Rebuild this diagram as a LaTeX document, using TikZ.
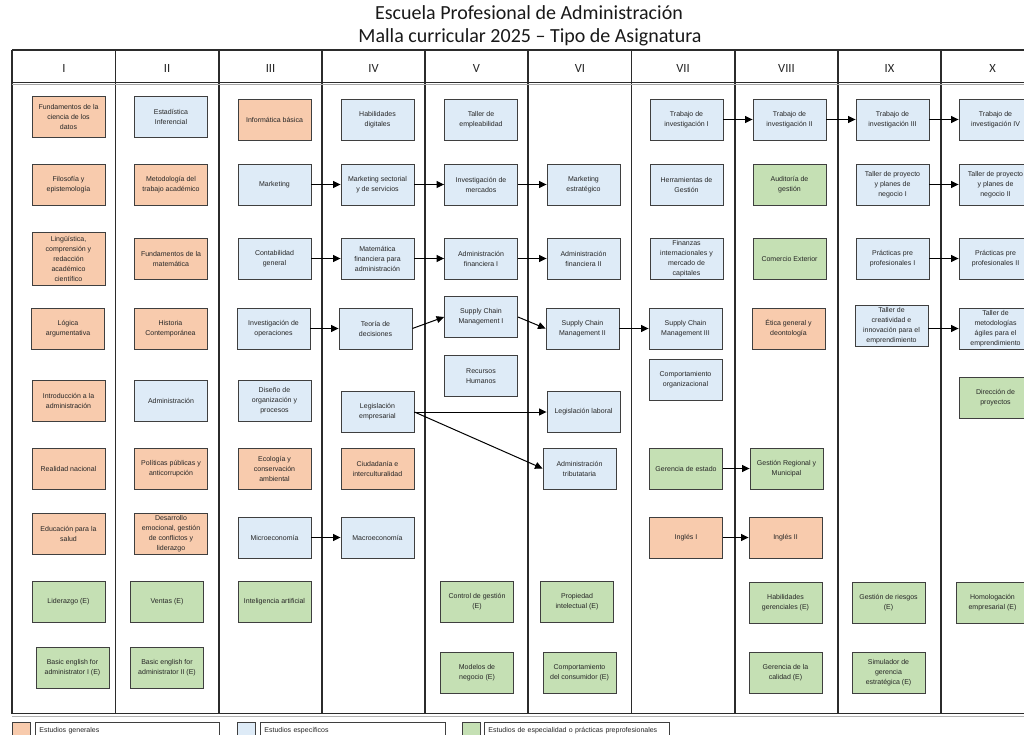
\documentclass[tikz,border=0pt]{standalone}
\usepackage{fontspec}
\setmainfont{Liberation Sans}
\newfontfamily\titlefont{Carlito}
\usetikzlibrary{arrows.meta}
\definecolor{cgen}{HTML}{F8CBAD}
\definecolor{cesp}{HTML}{DEEBF7}
\definecolor{cspc}{HTML}{C5E0B4}
\definecolor{boxline}{HTML}{3F3F3F}
\definecolor{gridline}{HTML}{2B2B2B}
\begin{document}
\begin{tikzpicture}[x=1pt,y=-1pt,
  course/.style={draw=boxline, line width=0.9pt, minimum width=73pt, minimum height=41pt,
    inner sep=0.5pt, align=center, text=black!85, font=\fontsize{7}{10}\selectfont},
  genbox/.style={course, fill=cgen},
  espbox/.style={course, fill=cesp},
  spcbox/.style={course, fill=cspc},
  arr/.style={-{Triangle[length=7.5pt,width=7pt]}, line width=1pt, draw=black},
  grid/.style={draw=gridline, line width=1.2pt},
  semester/.style={font=\titlefont\fontsize{12.5}{12.5}\selectfont, text=black!85},
  legsq/.style={draw=boxline, line width=0.8pt, minimum width=18pt, minimum height=16pt, inner sep=0pt, anchor=north west},
  legtxt/.style={draw=boxline, line width=0.8pt, minimum height=16pt, inner ysep=0pt, inner xsep=4pt,
    anchor=north west, align=left, font=\fontsize{7}{8}\selectfont, text=black!85},
]
\useasboundingbox (0,0) rectangle (1024,735);
\fill[white] (0,0) rectangle (1024,735);

% Title
\node[font=\titlefont\fontsize{20}{22}\selectfont, text=black!90] (t1) at (529,13) {Escuela Profesional de Administración};
\node[font=\titlefont\fontsize{20}{22}\selectfont, text=black!90] (t2) at (530,37) {Malla curricular 2025 – Tipo de Asignatura};

% Table grid
\foreach \x in {12,115.5,219,322,425,528,631.5,735,838,941}
  \draw[grid] (\x,50) -- (\x,714);
\draw[grid] (12,50) -- (1030,50);
\draw[grid] (12,82.5) -- (1030,82.5);
\draw[draw=gray!70, line width=1pt] (12,85) -- (1030,85);
\draw[grid] (12,713.5) -- (1030,713.5);
\draw[draw=gray!60, line width=1pt] (12,716) -- (1030,716);

% Semester headers
\node[semester] (h1) at (64,68) {I};
\node[semester] (h2) at (167,68) {II};
\node[semester] (h3) at (270.5,68) {III};
\node[semester] (h4) at (373.5,68) {IV};
\node[semester] (h5) at (476.5,68) {V};
\node[semester] (h6) at (580,68) {VI};
\node[semester] (h7) at (683,68) {VII};
\node[semester] (h8) at (786.5,68) {VIII};
\node[semester] (h9) at (889.5,68) {IX};
\node[semester] (h10) at (992.5,68) {X};

% Column I
\node[genbox] (fc) at (68.5,116.5) {Fundamentos de la\\ciencia de los\\datos};
\node[genbox] (fe) at (68.5,184.5) {Filosofía y\\epistemología};
\node[genbox, minimum height=53pt] (li) at (68.5,258.5) {Lingüística,\\comprensión y\\redacción\\académico\\científico};
\node[genbox] (lo) at (68,328.5) {Lógica\\argumentativa};
\node[genbox] (ia) at (68.5,400.5) {Introducción a la\\administración};
\node[genbox] (rn) at (68.5,468.5) {Realidad nacional};
\node[genbox] (ep) at (68.5,533.5) {Educación para la\\salud};
\node[spcbox] (lid) at (68.5,602) {Liderazgo (E)};
\node[spcbox] (be1) at (72.5,667.5) {Basic english for\\administrator I (E)};

% Column II
\node[espbox] (ei) at (171,116.5) {Estadística\\Inferencial};
\node[genbox] (mt) at (171,184.5) {Metodología del\\trabajo académico};
\node[genbox] (fm) at (171,258.5) {Fundamentos de la\\matemática};
\node[genbox] (hc) at (170.5,328.5) {Historia\\Contemporánea};
\node[espbox] (ad) at (171,400.5) {Administración};
\node[genbox] (pp) at (171,468.5) {Políticas públicas y\\anticorrupción};
\node[genbox] (de) at (171,533.5) {Desarrollo\\emocional, gestión\\de conflictos y\\liderazgo};
\node[spcbox] (ve) at (167,602) {Ventas (E)};
\node[spcbox] (be2) at (167,667.5) {Basic english for\\administrator II (E)};

% Column III
\node[genbox] (ib) at (274.5,119.5) {Informática básica};
\node[espbox] (mk) at (274.5,184.5) {Marketing};
\node[espbox] (cg) at (274.5,258.5) {Contabilidad\\general};
\node[espbox] (io) at (273.5,328.5) {Investigación de\\operaciones};
\node[espbox] (do) at (274.5,401) {Diseño de\\organización y\\procesos};
\node[genbox] (ec) at (274.5,468.5) {Ecología y\\conservación\\ambiental};
\node[espbox] (mi) at (274.5,537.5) {Microeconomía};
\node[spcbox] (ai) at (274.5,602) {Inteligencia artificial};

% Column IV
\node[espbox] (hd) at (377.5,119.5) {Habilidades\\digitales};
\node[espbox] (ms) at (377.5,184.5) {Marketing sectorial\\y de servicios};
\node[espbox] (mf) at (377.5,258.5) {Matemática\\financiera para\\administración};
\node[espbox] (td) at (375.5,328.5) {Teoría de\\decisiones};
\node[espbox] (le) at (377.5,412) {Legislación\\empresarial};
\node[genbox] (ci) at (377.5,468.5) {Ciudadanía e\\interculturalidad};
\node[espbox] (ma) at (377.5,537.5) {Macroeconomía};

% Column V
\node[espbox] (te) at (481,119.5) {Taller de\\empleabilidad};
\node[espbox] (im) at (481,184.5) {Investigación de\\mercados};
\node[espbox] (af1) at (481,258.5) {Administración\\financiera I};
\node[espbox] (sc1) at (481,317) {Supply Chain\\Management I};
\node[espbox] (rh) at (481,376) {Recursos\\Humanos};
\node[spcbox] (cgE) at (477,602) {Control de gestión\\(E)};
\node[spcbox] (mn) at (477,673) {Modelos de\\negocio (E)};

% Column VI
\node[espbox] (me) at (583.5,184.5) {Marketing\\estratégico};
\node[espbox] (af2) at (583.5,258.5) {Administración\\financiera II};
\node[espbox] (sc2) at (582.5,328.5) {Supply Chain\\Management II};
\node[espbox] (ll) at (583.5,412) {Legislación laboral};
\node[espbox] (at) at (579.5,468.5) {Administración\\tributataria};
\node[spcbox] (pi) at (577,602) {Propiedad\\intelectual (E)};
\node[spcbox] (cc) at (579.5,673) {Comportamiento\\del consumidor (E)};

% Column VII
\node[espbox] (ti1) at (686.5,119.5) {Trabajo de\\investigación I};
\node[espbox] (hg) at (686.5,184.5) {Herramientas de\\Gestión};
\node[espbox] (fi) at (686.5,258.5) {Finanzas\\internacionales y\\mercado de\\capitales};
\node[espbox] (sc3) at (685.5,328.5) {Supply Chain\\Management III};
\node[espbox] (co) at (685.5,379.5) {Comportamiento\\organizacional};
\node[spcbox] (ge) at (686,468.5) {Gerencia de estado};
\node[genbox] (in1) at (686,537.5) {Inglés I};

% Column VIII
\node[espbox] (ti2) at (789.5,119.5) {Trabajo de\\investigación II};
\node[spcbox] (au) at (789.5,184.5) {Auditoría de\\gestión};
\node[spcbox] (ce) at (789.5,258.5) {Comercio Exterior};
\node[genbox] (et) at (788.5,328.5) {Ética general y\\deontología};
\node[spcbox] (gr) at (786.5,468.5) {Gestión Regional y\\Municipal};
\node[genbox] (in2) at (785.5,537.5) {Inglés II};
\node[spcbox] (hgE) at (785.5,603) {Habilidades\\gerenciales (E)};
\node[spcbox] (gc) at (785.5,673) {Gerencia de la\\calidad (E)};

% Column IX
\node[espbox] (ti3) at (892.5,119.5) {Trabajo de\\investigación III};
\node[espbox] (tp1) at (892.5,184.5) {Taller de proyecto\\y planes de\\negocio I};
\node[espbox] (pr1) at (892.5,258.5) {Prácticas pre\\profesionales I};
\node[espbox] (tc) at (891.5,325.5) {Taller de\\creatividad e\\innovación para el\\emprendimiento};
\node[spcbox] (gri) at (888.5,603) {Gestión de riesgos\\(E)};
\node[spcbox] (sg) at (888.5,673) {Simulador de\\gerencia\\estratégica (E)};

% Column X
\node[espbox] (ti4) at (995.5,119.5) {Trabajo de\\investigación IV};
\node[espbox] (tp2) at (995.5,184.5) {Taller de proyecto\\y planes de\\negocio II};
\node[espbox] (pr2) at (995.5,258.5) {Prácticas pre\\profesionales II};
\node[espbox] (tm) at (995.5,328.5) {Taller de\\metodologías\\ágiles para el\\emprendimiento};
\node[spcbox] (dp) at (995.5,398) {Dirección de\\proyectos};
\node[spcbox] (ho) at (992.5,603) {Homologación\\empresarial (E)};

% Prerequisite arrows
\draw[arr] (mk) -- (ms);
\draw[arr] (ms) -- (im);
\draw[arr] (im) -- (me);
\draw[arr] (cg) -- (mf);
\draw[arr] (mf) -- (af1);
\draw[arr] (af1) -- (af2);
\draw[arr] (io.east) -- (io.east -| td.west);
\draw[arr] (td.east) -- (sc1.west);
\draw[arr] (sc1.east) -- (sc2.west);
\draw[arr] (sc2) -- (sc3);
\draw[arr] (le.east) -- (ll.west);
\draw[arr] (le.east) -- (at.west);
\draw[arr] (mi) -- (ma);
\draw[arr] (ti1) -- (ti2);
\draw[arr] (ti2) -- (ti3);
\draw[arr] (ti3) -- (ti4);
\draw[arr] (tp1) -- (tp2);
\draw[arr] (pr1) -- (pr2);
\draw[arr] (tc.east |- tm.west) -- (tm.west);
\draw[arr] (ge) -- (gr);
\draw[arr] (in1) -- (in2);

% Legend
\node[legsq, fill=cgen] (lg1) at (12,721.5) {};
\node[legtxt, text width=176pt] (lt1) at (35,722) {Estudios generales};
\node[legsq, fill=cesp] (lg2) at (237,721.5) {};
\node[legtxt, text width=177pt] (lt2) at (260,722) {Estudios específicos};
\node[legsq, fill=cspc] (lg3) at (462,721.5) {};
\node[legtxt, text width=177pt] (lt3) at (484,722) {Estudios de especialidad o prácticas preprofesionales};
\end{tikzpicture}
\end{document}
